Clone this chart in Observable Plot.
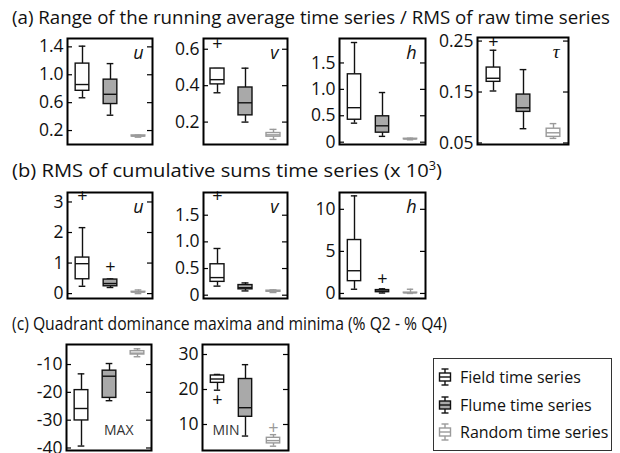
<!DOCTYPE html>
<html>
<head>
<meta charset="utf-8">
<script src="https://cdn.jsdelivr.net/npm/d3@7"></script>
<script src="https://cdn.jsdelivr.net/npm/@observablehq/plot@0.6"></script>
<style>
  body { margin: 0; background: #fff; }
  #fig { position: relative; width: 620px; height: 453px; overflow: hidden; font-family: "Open Sans", sans-serif; color: #111; }
  #fig .panel { position: absolute; }
  #titles { position: absolute; left: 0; top: 0; }
  #legend { position: absolute; left: 433px; top: 358px; width: 179px; height: 93px; border: 1px solid #333; box-sizing: border-box; background: #fff; }
  #legend .row { position: absolute; left: 4px; height: 22px; display: flex; align-items: center; font-size: 16px; white-space: nowrap; color: #111; }
  #legend svg { margin-right: 8px; }
</style>
</head>
<body>
<div id="fig"></div>
<script>
// Groups of time series shown in every panel
const groups = ["Field", "Flume", "Random"];
const legendLabels = ["Field time series", "Flume time series", "Random time series"];

// Box statistics per group: [lower whisker, Q1, median, Q3, upper whisker]
// (a) range of running average / RMS of raw series
const rangeU   = [[0.67, 0.77, 0.86, 1.16, 1.41], [0.42, 0.58, 0.72, 0.93, 1.16], [0.105, 0.115, 0.12, 0.13, 0.135]];
const rangeUOut = [[], [], []];
const rangeV   = [[0.361, 0.407, 0.433, 0.494, 0.494], [0.20, 0.237, 0.306, 0.39, 0.496], [0.105, 0.12, 0.13, 0.14, 0.16]];
const rangeVOut = [[0.627], [], []];
const rangeH   = [[0.36, 0.425, 0.653, 1.285, 1.887], [0.11, 0.18, 0.31, 0.49, 0.94], [0.045, 0.055, 0.06, 0.065, 0.075]];
const rangeHOut = [[], [], []];
const rangeTau = [[0.152, 0.170, 0.177, 0.198, 0.232], [0.078, 0.111, 0.119, 0.145, 0.194], [0.059, 0.062, 0.070, 0.078, 0.088]];
const rangeTauOut = [[0.247], [], []];

// (b) RMS of cumulative sums (x 10^3)
const cusumU   = [[0.24, 0.47, 0.98, 1.18, 2.16], [0.20, 0.24, 0.33, 0.46, 0.48], [0.0, 0.04, 0.05, 0.06, 0.12]];
const cusumUOut = [[3.19], [0.87], []];
const cusumV   = [[0.17, 0.25, 0.33, 0.58, 0.876], [0.08, 0.11, 0.14, 0.19, 0.23], [0.05, 0.065, 0.075, 0.085, 0.10]];
const cusumVOut = [[1.856], [], []];
const cusumH   = [[0.5, 1.46, 2.7, 6.35, 11.6], [0.05, 0.15, 0.28, 0.40, 0.55], [0.0, 0.04, 0.07, 0.10, 0.5]];
const cusumHOut = [[], [1.67], []];

// (c) quadrant dominance (% Q2 - % Q4)
const quadMax  = [[-39.3, -30.1, -25.8, -19.2, -13.35], [-23, -22, -14.2, -12.2, -9.64], [-7.2, -6.4, -5.9, -5.2, -4.35]];
const quadMaxOut = [[], [], []];
const quadMin  = [[19.8, 21.9, 23.0, 24.0, 24.3], [6.7, 12.2, 14.8, 23.0, 27.1], [3.8, 4.6, 5.4, 6.2, 7.1]];
const quadMinOut = [[17.0], [], [8.8]];

// Tick values and their labels
const ticksRangeU = [0.2, 0.6, 1.0, 1.4],   labelsRangeU = ["0.2", "0.6", "1.0", "1.4"];
const ticksRangeV = [0.2, 0.4, 0.6],        labelsRangeV = ["0.2", "0.4", "0.6"];
const ticksRangeH = [0, 0.5, 1.0, 1.5],     labelsRangeH = ["0", "0.5", "1.0", "1.5"];
const ticksRangeTau = [0.05, 0.15, 0.25],   labelsRangeTau = ["0.05", "0.15", "0.25"];
const ticksCusumU = [0, 1, 2, 3],           labelsCusumU = ["0", "1", "2", "3"];
const ticksCusumV = [0, 0.5, 1.0, 1.5],     labelsCusumV = ["0", "0.5", "1.0", "1.5"];
const ticksCusumH = [0, 5, 10],             labelsCusumH = ["0", "5", "10"];
const ticksQuadMax = [-40, -30, -20, -10],  labelsQuadMax = ["-40", "-30", "-20", "-10"];
const ticksQuadMin = [10, 20, 30],          labelsQuadMin = ["10", "20", "30"];

// Group styling
const boxFill = {Field: "#ffffff", Flume: "#a9a9a9", Random: "#ffffff"};
const lineColor = {Field: "#111111", Flume: "#111111", Random: "#9a9a9a"};

const fig = document.getElementById("fig");

function boxPanel({stats, outliers, ticks, labels, domain, frame, name, serif = false, note = null}) {
  const [fl, fr, ft, fb] = frame;
  const mL = 52, mR = 3, mT = 3, mB = 3;
  const innerW = fr - fl;
  const bw = innerW / 3;
  const boxInset = (bw - 14) / 2;
  const capInset = (bw - 7) / 2;
  const rows = groups.map((g, i) => ({group: g, lo: stats[i][0], q1: stats[i][1], med: stats[i][2], q3: stats[i][3], hi: stats[i][4]}));
  const outs = groups.flatMap((g, i) => outliers[i].map(v => ({group: g, value: v})));
  const fmt = d => labels[ticks.indexOf(d)];
  const stroke = d => lineColor[d.group];
  const marks = [
    // inward tick marks on both vertical edges
    Plot.ruleY(ticks, {y: d => d, insetRight: innerW - 5, stroke: "#000", strokeWidth: 1.2}),
    Plot.ruleY(ticks, {y: d => d, insetLeft: innerW - 5, stroke: "#000", strokeWidth: 1.2}),
    Plot.ruleX(rows, {x: "group", y1: "q3", y2: "hi", stroke, strokeWidth: 1.4}),
    Plot.ruleX(rows, {x: "group", y1: "lo", y2: "q1", stroke, strokeWidth: 1.4}),
    Plot.tickY(rows, {x: "group", y: "hi", stroke, strokeWidth: 1.4, insetLeft: capInset, insetRight: capInset}),
    Plot.tickY(rows, {x: "group", y: "lo", stroke, strokeWidth: 1.4, insetLeft: capInset, insetRight: capInset}),
    Plot.barY(rows, {x: "group", y1: "q1", y2: "q3", fill: d => boxFill[d.group], stroke, strokeWidth: 1.4, insetLeft: boxInset, insetRight: boxInset}),
    Plot.tickY(rows, {x: "group", y: "med", stroke, strokeWidth: 1.4, insetLeft: boxInset, insetRight: boxInset}),
    Plot.text(outs, {x: "group", y: "value", text: () => "+", fill: d => lineColor[d.group], fontSize: 18, lineAnchor: "middle"}),
    Plot.text([name], {frameAnchor: "top-right", textAnchor: "end", lineAnchor: "bottom", dx: -9, dy: 20,
      fontStyle: "italic", fontSize: serif ? 19 : 18, fontFamily: serif ? "Liberation Serif" : "Open Sans", fill: "#111"}),
    Plot.axisY({ticks, anchor: "left", tickSize: 0, tickPadding: 4, tickFormat: fmt, fontSize: 17.5, label: null}),
    Plot.frame({stroke: "#000", strokeWidth: 2})
  ];
  if (note) marks.push(Plot.text([note.text], {frameAnchor: note.anchor, textAnchor: note.textAnchor, lineAnchor: "bottom",
    dx: note.dx, dy: -16, fontSize: 14, fill: "#333"}));
  const svg = Plot.plot({
    width: innerW + mL + mR,
    height: fb - ft + mT + mB,
    marginLeft: mL, marginRight: mR, marginTop: mT, marginBottom: mB,
    x: {type: "band", domain: groups, paddingInner: 0, paddingOuter: 0, axis: null},
    y: {domain, label: null, axis: null},
    style: {fontFamily: "Open Sans", color: "#111", background: "transparent", overflow: "visible"},
    marks
  });
  svg.classList.add("panel");
  svg.style.left = (fl - mL) + "px";
  svg.style.top = (ft - mT) + "px";
  fig.appendChild(svg);
}

// Row (a)
boxPanel({stats: rangeU, outliers: rangeUOut, ticks: ticksRangeU, labels: labelsRangeU, domain: [0.0, 1.52], frame: [67, 152, 38, 144], name: "u"});
boxPanel({stats: rangeV, outliers: rangeVOut, ticks: ticksRangeV, labels: labelsRangeV, domain: [0.077, 0.659], frame: [203, 287, 38, 144], name: "v"});
boxPanel({stats: rangeH, outliers: rangeHOut, ticks: ticksRangeH, labels: labelsRangeH, domain: [-0.044, 1.963], frame: [339, 425, 38, 144], name: "h"});
boxPanel({stats: rangeTau, outliers: rangeTauOut, ticks: ticksRangeTau, labels: labelsRangeTau, domain: [0.047, 0.257], frame: [477, 568, 37, 144], name: "τ", serif: true});
// Row (b)
boxPanel({stats: cusumU, outliers: cusumUOut, ticks: ticksCusumU, labels: labelsCusumU, domain: [-0.16, 3.31], frame: [67, 152, 192, 298], name: "u"});
boxPanel({stats: cusumV, outliers: cusumVOut, ticks: ticksCusumV, labels: labelsCusumV, domain: [-0.062, 1.926], frame: [203, 287, 192, 298], name: "v"});
boxPanel({stats: cusumH, outliers: cusumHOut, ticks: ticksCusumH, labels: labelsCusumH, domain: [-0.6, 12.0], frame: [339, 425, 192, 298], name: "h"});
// Row (c)
boxPanel({stats: quadMax, outliers: quadMaxOut, ticks: ticksQuadMax, labels: labelsQuadMax, domain: [-40.9, -2.8], frame: [66, 151, 344, 450], name: "",
  note: {text: "MAX", anchor: "bottom-right", textAnchor: "end", dx: -18}});
boxPanel({stats: quadMin, outliers: quadMinOut, ticks: ticksQuadMin, labels: labelsQuadMin, domain: [2.57, 32.86], frame: [202, 288, 344, 450], name: "",
  note: {text: "MIN", anchor: "bottom-left", textAnchor: "start", dx: 10}});

// Row headings
const titles = d3.select(fig).append("svg").attr("id", "titles").attr("width", 620).attr("height", 453)
  .style("pointer-events", "none").style("font-family", "Open Sans").style("font-size", "19px").style("fill", "#111");
titles.append("text").attr("x", 12).attr("y", 24).attr("textLength", 598).attr("lengthAdjust", "spacingAndGlyphs")
  .text("(a) Range of the running average time series / RMS of raw time series");
const tb = titles.append("text").attr("x", 12).attr("y", 176.5).attr("textLength", 430).attr("lengthAdjust", "spacingAndGlyphs");
tb.append("tspan").text("(b) RMS of cumulative sums time series (x 10");
tb.append("tspan").attr("dy", -7).style("font-size", "12px").text("3");
tb.append("tspan").attr("dy", 7).text(")");
titles.append("text").attr("x", 12).attr("y", 330).attr("textLength", 435).attr("lengthAdjust", "spacingAndGlyphs")
  .text("(c) Quadrant dominance maxima and minima (% Q2 - % Q4)");

// Legend
const legend = d3.select(fig).append("div").attr("id", "legend");
legendLabels.forEach((label, i) => {
  const g = groups[i];
  const row = legend.append("div").attr("class", "row").style("top", (7 + i * 27.5) + "px");
  const icon = row.append("svg").attr("width", 14).attr("height", 20);
  const c = lineColor[g];
  icon.append("line").attr("x1", 7).attr("x2", 7).attr("y1", 2).attr("y2", 18).attr("stroke", c).attr("stroke-width", 1.4);
  icon.append("line").attr("x1", 3.5).attr("x2", 10.5).attr("y1", 2).attr("y2", 2).attr("stroke", c).attr("stroke-width", 1.4);
  icon.append("line").attr("x1", 3.5).attr("x2", 10.5).attr("y1", 18).attr("y2", 18).attr("stroke", c).attr("stroke-width", 1.4);
  icon.append("rect").attr("x", 1.5).attr("y", 6).attr("width", 11).attr("height", 8).attr("fill", boxFill[g]).attr("stroke", c).attr("stroke-width", 1.4);
  icon.append("line").attr("x1", 1.5).attr("x2", 12.5).attr("y1", 10).attr("y2", 10).attr("stroke", c).attr("stroke-width", 1.4);
  row.append("span").text(label);
});
</script>
</body>
</html>
